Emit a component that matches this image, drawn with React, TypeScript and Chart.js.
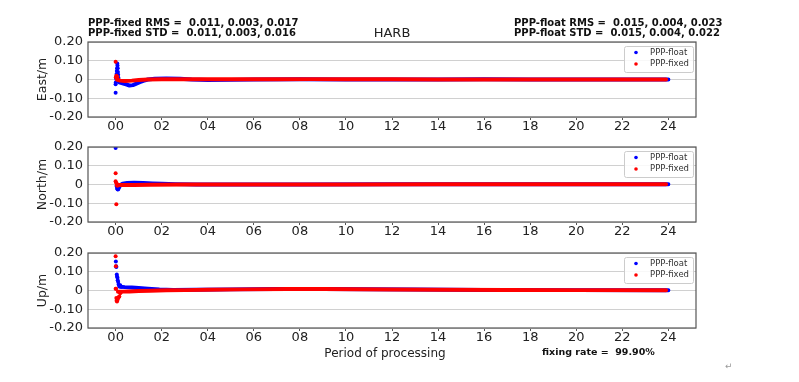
import React, { useEffect, useRef } from "react";
import { Chart, registerables } from "chart.js";
Chart.register(...registerables);

// ---------- axis ticks ----------
const xTickHours = [0, 2, 4, 6, 8, 10, 12, 14, 16, 18, 20, 22, 24];
const yTickValues = [-0.2, -0.1, 0, 0.1, 0.2];
const panelTitles = ["East/m", "North/m", "Up/m"];
const seriesNames = ["PPP-float", "PPP-fixed"];

// ---------- East ----------
const eastFloatDotsT = [0.0, 0.0, 0.01, 0.02, 0.03, 0.04, 0.05, 0.06, 0.07, 0.08, 0.09, 0.1, 0.11, 0.12, 0.13, 0.15];
const eastFloatDotsV = [-0.07, -0.025, -0.015, 0.005, 0.015, 0.03, 0.045, 0.06, 0.085, 0.075, 0.06, 0.04, 0.025, 0.01, -0.005, -0.012];
const eastFloatBandT = [0.15, 0.3, 0.45, 0.6, 0.75, 0.9, 1.05, 1.2, 1.4, 1.7, 2.2, 2.8, 3.3, 4.0, 5.0, 6.0, 8.0, 10.0, 12.0, 14.0, 16.0, 18.0, 20.0, 22.0, 24.0];
const eastFloatBandV = [-0.015, -0.02, -0.026, -0.032, -0.03, -0.022, -0.014, -0.007, 0.0, 0.004, 0.005, 0.004, 0.0, -0.003, -0.002, 0.0, 0.001, 0.0, 0.0, 0.0, 0.001, 0.0, 0.0, 0.0, 0.0];
const eastFixedDotsT = [0.0, 0.01, 0.03, 0.05, 0.07];
const eastFixedDotsV = [0.095, 0.012, 0.02, 0.008, 0.015];
const eastFixedBandT = [0.05, 0.2, 0.4, 0.7, 1.0, 1.4, 2.0, 3.0, 5.0, 7.0, 8.5, 10.0, 12.0, 14.0, 16.0, 18.0, 20.0, 22.0, 23.9];
const eastFixedBandV = [0.0, -0.006, -0.008, -0.006, -0.003, 0.0, 0.001, 0.001, 0.001, 0.001, 0.002, 0.001, 0.001, 0.0, 0.0, 0.0, 0.0, 0.0, 0.0];

// ---------- North ----------
const northFloatDotsT = [0.0, 0.04, 0.06, 0.08, 0.1, 0.12, 0.15, 0.18];
const northFloatDotsV = [0.195, -0.008, -0.018, -0.025, -0.027, -0.024, -0.016, -0.008];
const northFloatBandT = [0.2, 0.3, 0.5, 0.8, 1.2, 1.6, 2.0, 2.6, 3.5, 5.0, 8.0, 12.0, 16.0, 20.0, 24.0];
const northFloatBandV = [-0.004, 0.004, 0.008, 0.009, 0.008, 0.006, 0.004, 0.002, 0.0, 0.0, 0.0, 0.001, 0.001, 0.001, 0.001];
const northFixedDotsT = [0.0, 0.0, 0.02, 0.03, 0.05, 0.08];
const northFixedDotsV = [0.06, 0.018, 0.01, -0.105, 0.004, -0.006];
const northFixedBandT = [0.05, 0.3, 0.8, 1.5, 3.0, 6.0, 10.0, 14.0, 18.0, 22.0, 23.9];
const northFixedBandV = [-0.003, -0.002, -0.002, -0.001, 0.0, 0.0, 0.0, 0.001, 0.001, 0.001, 0.001];

// ---------- Up ----------
const upFloatDotsT = [0.01, 0.02, 0.03, 0.05, 0.06, 0.08, 0.09, 0.11, 0.13, 0.16, 0.2, 0.25];
const upFloatDotsV = [0.155, 0.13, 0.125, 0.085, 0.075, 0.068, 0.055, 0.045, 0.032, 0.022, 0.028, 0.02];
const upFloatBandT = [0.2, 0.4, 0.7, 1.0, 1.4, 1.9, 2.5, 3.5, 5.0, 7.0, 9.0, 11.0, 13.0, 16.0, 20.0, 24.0];
const upFloatBandV = [0.02, 0.018, 0.016, 0.013, 0.009, 0.005, 0.003, 0.004, 0.006, 0.008, 0.008, 0.007, 0.005, 0.003, 0.002, 0.002];
const upFixedDotsT = [0.0, 0.0, 0.01, 0.02, 0.03, 0.04, 0.06, 0.08, 0.1, 0.13, 0.16, 0.2];
const upFixedDotsV = [0.183, 0.01, 0.13, 0.01, -0.04, -0.055, -0.058, -0.05, -0.042, -0.036, -0.032, -0.015];
const upFixedBandT = [0.1, 0.3, 0.6, 1.0, 1.5, 2.2, 3.0, 4.0, 5.5, 7.5, 9.0, 10.5, 12.0, 14.0, 17.0, 20.0, 23.9];
const upFixedBandV = [-0.006, -0.006, -0.005, -0.003, -0.001, 0.001, 0.002, 0.004, 0.006, 0.008, 0.008, 0.007, 0.005, 0.004, 0.003, 0.002, 0.002];

// ---------- header / footer text ----------
const fixedStats = ["PPP-fixed RMS =  0.011, 0.003, 0.017", "PPP-fixed STD =  0.011, 0.003, 0.016"];
const floatStats = ["PPP-float RMS =  0.015, 0.004, 0.023", "PPP-float STD =  0.015, 0.004, 0.022"];
const stationName = "HARB";
const xAxisLabel = "Period of processing";
const fixingRateText = "fixing rate =  99.90%";

const FONT = '"DejaVu Sans", Verdana, sans-serif';
const BLUE = "#0000ff";
const RED = "#ff0000";

const pts = (t: number[], v: number[]) => t.map((x, i) => ({ x, y: v[i] }));

const panels = [
  { title: panelTitles[0], fd: [eastFloatDotsT, eastFloatDotsV], fb: [eastFloatBandT, eastFloatBandV], xd: [eastFixedDotsT, eastFixedDotsV], xb: [eastFixedBandT, eastFixedBandV] },
  { title: panelTitles[1], fd: [northFloatDotsT, northFloatDotsV], fb: [northFloatBandT, northFloatBandV], xd: [northFixedDotsT, northFixedDotsV], xb: [northFixedBandT, northFixedBandV] },
  { title: panelTitles[2], fd: [upFloatDotsT, upFloatDotsV], fb: [upFloatBandT, upFloatBandV], xd: [upFixedDotsT, upFixedDotsV], xb: [upFixedBandT, upFixedBandV] },
];

// layout of each canvas: [top, height, padTop, xAxisHeight]
const canvasLayout = [
  [0, 140, 42, 23],
  [130, 115, 17, 23],
  [235, 147, 18, 54],
];

const frameLegendPlugin = {
  id: "frameLegend",
  afterDatasetsDraw(chart: any) {
    const { ctx, chartArea } = chart;
    const { left, right, top, bottom } = chartArea;
    ctx.save();
    ctx.strokeStyle = "#555555";
    ctx.lineWidth = 1.2;
    ctx.strokeRect(left, top, right - left, bottom - top);
    ctx.restore();
  },
  afterDraw(chart: any) {
    const { ctx, chartArea } = chart;
    const { right, top } = chartArea;
    const bx = right - 72;
    const by = top + 4;
    ctx.save();
    ctx.beginPath();
    if ((ctx as any).roundRect) (ctx as any).roundRect(bx + 0.5, by + 0.5, 69, 26, 2);
    else ctx.rect(bx + 0.5, by + 0.5, 69, 26);
    ctx.fillStyle = "rgba(255,255,255,0.85)";
    ctx.fill();
    ctx.strokeStyle = "#cccccc";
    ctx.lineWidth = 1;
    ctx.stroke();
    const colors = [BLUE, RED];
    const ys = [top + 10.5, top + 22];
    ctx.font = `8.5px ${FONT}`;
    ctx.textBaseline = "middle";
    ctx.textAlign = "left";
    for (let i = 0; i < 2; i++) {
      ctx.beginPath();
      ctx.arc(right - 60, ys[i], 1.8, 0, Math.PI * 2);
      ctx.fillStyle = colors[i];
      ctx.fill();
      ctx.fillStyle = "#333333";
      ctx.fillText(seriesNames[i], right - 46, ys[i]);
    }
    ctx.restore();
  },
};

function makeConfig(p: any, padTop: number, xAxisH: number): any {
  const band = (data: any[], color: string, order: number) => ({
    data,
    showLine: true,
    borderColor: color,
    borderWidth: 4,
    borderCapStyle: "round",
    borderJoinStyle: "round",
    pointRadius: 0,
    tension: 0,
    order,
  });
  const dots = (data: any[], color: string, order: number) => ({
    data,
    showLine: false,
    backgroundColor: color,
    borderWidth: 0,
    pointRadius: 2,
    order,
  });
  return {
    type: "scatter",
    data: {
      datasets: [
        dots(pts(p.xd[0], p.xd[1]), RED, 0),
        band(pts(p.xb[0], p.xb[1]), RED, 1),
        dots(pts(p.fd[0], p.fd[1]), BLUE, 2),
        band(pts(p.fb[0], p.fb[1]), BLUE, 3),
      ],
    },
    options: {
      responsive: false,
      animation: false,
      events: [],
      layout: { padding: { left: 0, right: 103, top: padTop, bottom: 0 } },
      plugins: { legend: { display: false }, tooltip: { enabled: false }, title: { display: false } },
      scales: {
        x: {
          type: "linear",
          min: -1.2,
          max: 25.2,
          afterBuildTicks: (s: any) => {
            s.ticks = xTickHours.map((v) => ({ value: v }));
          },
          afterFit: (s: any) => {
            s.height = xAxisH;
          },
          ticks: {
            autoSkip: false,
            maxRotation: 0,
            padding: -1,
            color: "#222222",
            font: { family: FONT, size: 13 },
            callback: (v: any) => String(Math.round(Number(v))).padStart(2, "0"),
          },
          grid: { display: true, drawOnChartArea: false, drawTicks: true, tickLength: 3, color: "#555555" },
          border: { display: false },
        },
        y: {
          type: "linear",
          min: -0.2,
          max: 0.2,
          afterBuildTicks: (s: any) => {
            s.ticks = yTickValues.map((v) => ({ value: v }));
          },
          afterFit: (s: any) => {
            s.width = 88;
          },
          ticks: {
            padding: 5,
            color: "#222222",
            font: { family: FONT, size: 13 },
            callback: (v: any) => (Math.abs(Number(v)) < 1e-9 ? "0" : Number(v).toFixed(2)),
          },
          grid: { color: "#d0d0d0", lineWidth: 1, drawTicks: false },
          border: { display: false },
          title: {
            display: true,
            text: p.title,
            color: "#222222",
            font: { family: FONT, size: 12.5 },
            padding: { top: 35, bottom: 0 },
          },
        },
      },
    },
    plugins: [frameLegendPlugin],
  };
}

function Panel({ index }: { index: number }) {
  const ref = useRef<HTMLCanvasElement | null>(null);
  const [top, height, padTop, xAxisH] = canvasLayout[index];
  useEffect(() => {
    if (!ref.current) return;
    const chart = new Chart(ref.current, makeConfig(panels[index], padTop, xAxisH));
    return () => chart.destroy();
  }, [index]);
  return (
    <canvas
      ref={ref}
      width={799}
      height={height}
      style={{ position: "absolute", left: 0, top, width: 799, height }}
    />
  );
}

function Txt({ x, y, size, bold, color, children, center }: any) {
  return (
    <div
      style={{
        position: "absolute",
        left: center ? x - 150 : x,
        width: center ? 300 : undefined,
        textAlign: center ? "center" : "left",
        top: y - 0.48 * size,
        fontFamily: FONT,
        fontSize: size,
        lineHeight: `${size}px`,
        fontWeight: bold ? "bold" : "normal",
        color: color || "#111111",
        whiteSpace: "pre",
      }}
    >
      {children}
    </div>
  );
}

export default function App() {
  return (
    <div style={{ position: "absolute", left: 0, top: 0, width: 799, height: 382, background: "#ffffff", overflow: "hidden" }}>
      <Panel index={0} />
      <Panel index={1} />
      <Panel index={2} />
      <Txt x={88} y={22.7} size={10} bold>{fixedStats[0]}</Txt>
      <Txt x={88} y={32.7} size={10} bold>{fixedStats[1]}</Txt>
      <Txt x={514} y={22.7} size={10} bold>{floatStats[0]}</Txt>
      <Txt x={514} y={32.7} size={10} bold>{floatStats[1]}</Txt>
      <Txt x={392} y={32.7} size={13} center color="#222222">{stationName}</Txt>
      <Txt x={385} y={352.5} size={12} center color="#222222">{xAxisLabel}</Txt>
      <Txt x={542} y={351.7} size={9.5} bold>{fixingRateText}</Txt>
      <Txt x={725} y={366} size={9} color="#999999">{"↵"}</Txt>
    </div>
  );
}
